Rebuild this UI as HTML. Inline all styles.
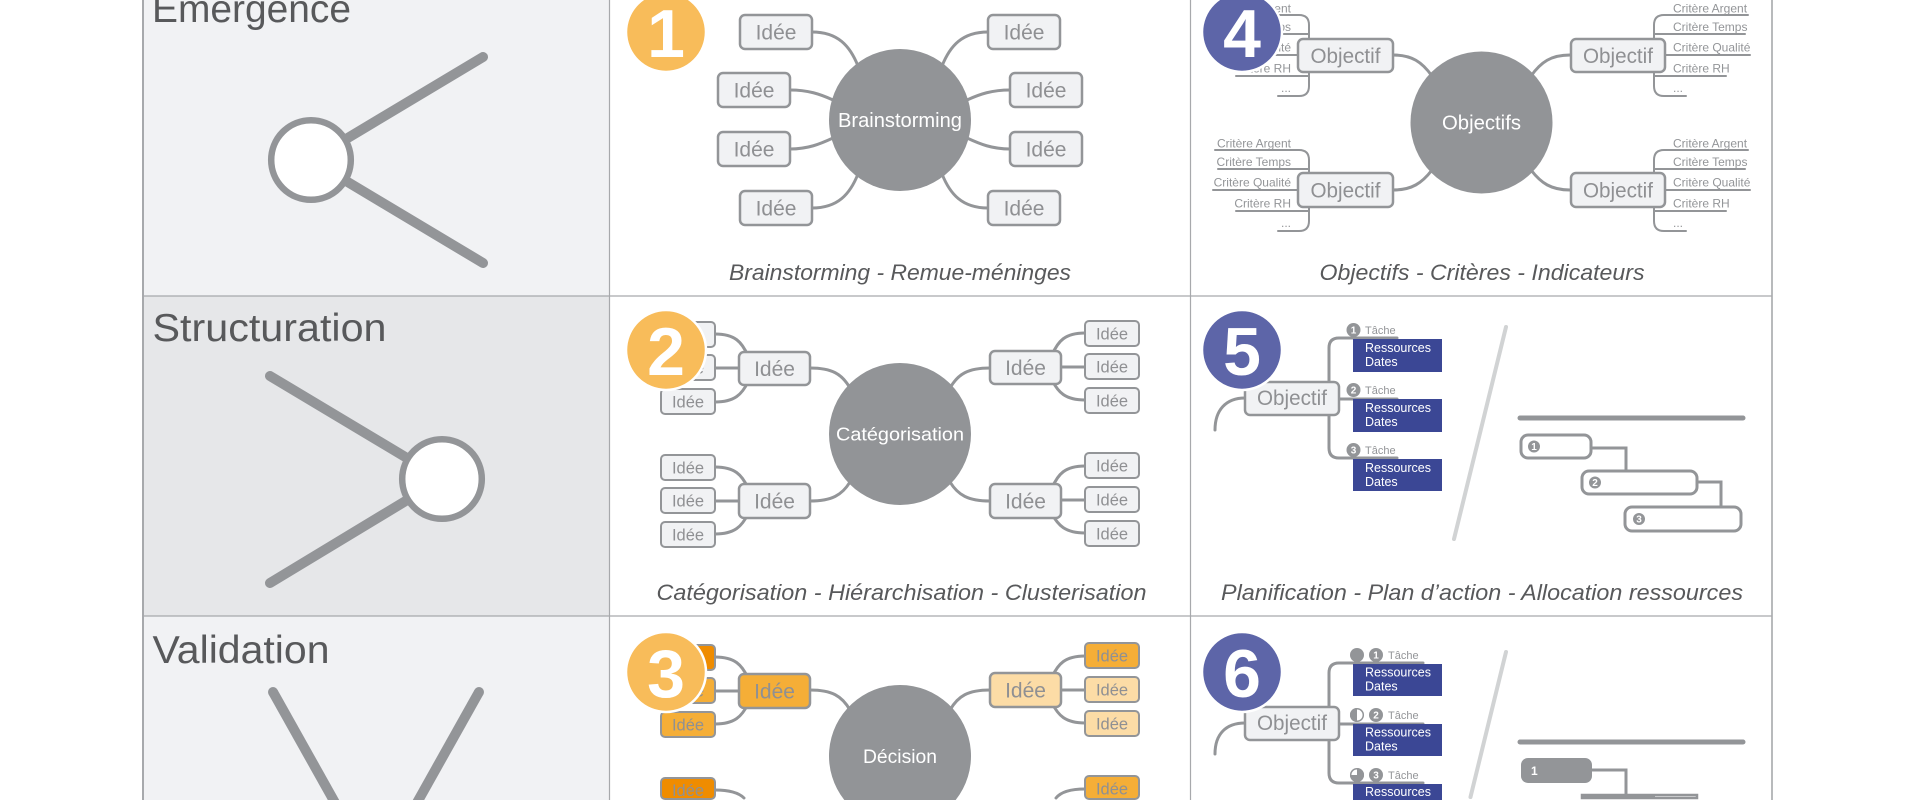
<!DOCTYPE html>
<html>
<head>
<meta charset="utf-8">
<style>
html,body{margin:0;padding:0;background:#ffffff;width:1920px;height:800px;overflow:hidden;}
svg{display:block;}
.c{fill:none;stroke:#939598;stroke-width:3;stroke-linecap:round;}
.cs{fill:none;stroke:#939598;stroke-width:2;stroke-linecap:round;}
.b{fill:#f1f2f4;stroke:#939598;stroke-width:2.5;}
.bs{fill:#f1f2f4;stroke:#939598;stroke-width:2;}
.t{fill:#8f9093;font-size:21px;text-anchor:middle;}
.ts{fill:#8f9093;font-size:16.5px;text-anchor:middle;}
.cr{fill:#939598;font-size:12px;}
.cre{fill:#939598;font-size:12px;text-anchor:end;}
.cap{fill:#58595b;font-size:22px;font-style:italic;text-anchor:middle;}
.ttl{fill:#58595b;font-size:39px;}
.ctr{fill:#ffffff;text-anchor:middle;}
.nv{fill:#3b4795;}
.rs{fill:#ffffff;font-size:12.5px;}
.tq{fill:#939598;font-size:11px;}
.dg{fill:#ffffff;font-size:10px;font-weight:bold;text-anchor:middle;}
.bd{fill:#ffffff;font-size:68px;font-weight:bold;text-anchor:middle;}
</style>
</head>
<body>
<svg width="1920" height="800" viewBox="0 0 1920 800" xmlns="http://www.w3.org/2000/svg" font-family="'Liberation Sans', sans-serif" overflow="hidden">
<rect x="0" y="0" width="1920" height="800" fill="#ffffff"/>
<!-- left column backgrounds -->
<rect x="143" y="0" width="466.5" height="296" fill="#f1f2f4"/>
<rect x="143" y="296" width="466.5" height="320" fill="#e6e7e9"/>
<rect x="143" y="616" width="466.5" height="184" fill="#f1f2f4"/>

<!-- grid lines -->
<line x1="143" y1="0" x2="143" y2="800" stroke="#a7a9ac" stroke-width="2"/>
<line x1="609.5" y1="0" x2="609.5" y2="800" stroke="#a7a9ac" stroke-width="1.2"/>
<line x1="1190.5" y1="0" x2="1190.5" y2="800" stroke="#a7a9ac" stroke-width="1.2"/>
<line x1="1772" y1="0" x2="1772" y2="800" stroke="#a7a9ac" stroke-width="1.6"/>
<line x1="143" y1="296" x2="1772" y2="296" stroke="#a7a9ac" stroke-width="1.3"/>
<line x1="143" y1="616" x2="1772" y2="616" stroke="#a7a9ac" stroke-width="1.3"/>

<!-- ===== LEFT COLUMN ===== -->
<text class="ttl" x="152" y="22" textLength="199" lengthAdjust="spacingAndGlyphs">Emergence</text>
<line x1="311" y1="160" x2="483" y2="57" stroke="#939598" stroke-width="10" stroke-linecap="round"/>
<line x1="311" y1="160" x2="483" y2="263" stroke="#939598" stroke-width="10" stroke-linecap="round"/>
<circle cx="311" cy="160" r="39.8" fill="#ffffff" stroke="#939598" stroke-width="6.5"/>

<text class="ttl" x="152.5" y="341" textLength="234" lengthAdjust="spacingAndGlyphs">Structuration</text>
<line x1="442" y1="479" x2="270" y2="376" stroke="#939598" stroke-width="10" stroke-linecap="round"/>
<line x1="442" y1="479" x2="270" y2="583" stroke="#939598" stroke-width="10" stroke-linecap="round"/>
<circle cx="442" cy="479" r="39.8" fill="#ffffff" stroke="#939598" stroke-width="6.5"/>

<text class="ttl" x="152.5" y="663" textLength="177" lengthAdjust="spacingAndGlyphs">Validation</text>
<polygon points="277.4,689.6 339.2,800 327.8,800 268.6,694.4" fill="#939598"/>
<circle cx="273" cy="692" r="5" fill="#939598"/>
<polygon points="474.6,689.6 412.8,800 424.2,800 483.4,694.4" fill="#939598"/>
<circle cx="479" cy="692" r="5" fill="#939598"/>

<!-- ===== ROW 1 COL 2 : Brainstorming ===== -->
<path class="c" d="M812,32 C838,32 850,46 858,66"/>
<path class="c" d="M790,90 C808,90 820,94 833,100"/>
<path class="c" d="M790,149 C808,149 820,144 833,138"/>
<path class="c" d="M812,208 C838,208 850,194 858,174"/>
<path class="c" d="M988,32 C962,32 950,46 942,66"/>
<path class="c" d="M1010,90 C992,90 980,94 967,100"/>
<path class="c" d="M1010,149 C992,149 980,144 967,138"/>
<path class="c" d="M988,208 C962,208 950,194 942,174"/>
<circle cx="900" cy="120" r="71" fill="#929497"/>
<text class="ctr" x="900" y="127" font-size="20" textLength="124" lengthAdjust="spacingAndGlyphs">Brainstorming</text>
<rect class="b" x="740" y="15" width="72" height="34" rx="5"/><text class="t" x="776" y="39.5">Idée</text>
<rect class="b" x="718" y="73" width="72" height="34" rx="5"/><text class="t" x="754" y="97.5">Idée</text>
<rect class="b" x="718" y="132" width="72" height="34" rx="5"/><text class="t" x="754" y="156.5">Idée</text>
<rect class="b" x="740" y="191" width="72" height="34" rx="5"/><text class="t" x="776" y="215.5">Idée</text>
<rect class="b" x="988" y="15" width="72" height="34" rx="5"/><text class="t" x="1024" y="39.5">Idée</text>
<rect class="b" x="1010" y="73" width="72" height="34" rx="5"/><text class="t" x="1046" y="97.5">Idée</text>
<rect class="b" x="1010" y="132" width="72" height="34" rx="5"/><text class="t" x="1046" y="156.5">Idée</text>
<rect class="b" x="988" y="191" width="72" height="34" rx="5"/><text class="t" x="1024" y="215.5">Idée</text>
<text class="cap" x="900" y="280" textLength="342" lengthAdjust="spacingAndGlyphs">Brainstorming - Remue-méninges</text>
<circle cx="666" cy="32" r="40" fill="#f8bc5a" stroke="#ffffff" stroke-width="2.5"/>
<text class="bd" x="666" y="57">1</text>

<!-- ===== ROW 1 COL 3 : Objectifs ===== -->
<path class="c" d="M1393,55 C1412,55 1422,62 1432,76"/>
<path class="c" d="M1393,190 C1412,190 1422,183 1432,170"/>
<path class="c" d="M1570,55 C1551,55 1541,62 1531,76"/>
<path class="c" d="M1570,190 C1551,190 1541,183 1531,170"/>
<!-- TR criteria -->
<path class="cs" d="M1748,15 L1664,15 Q1654,15 1654,25 L1654,86 Q1654,96 1664,96 L1686,96"/>
<path class="cs" d="M1654,34 L1745,34"/>
<path class="cs" d="M1664,55 L1750,55"/>
<path class="cs" d="M1654,76 L1726,76"/>
<text class="cr" x="1673" y="12.5">Critère Argent</text>
<text class="cr" x="1673" y="31">Critère Temps</text>
<text class="cr" x="1673" y="51.5">Critère Qualité</text>
<text class="cr" x="1673" y="72.5">Critère RH</text>
<text class="cr" x="1673" y="92">...</text>
<!-- BR criteria -->
<path class="cs" d="M1748,150 L1664,150 Q1654,150 1654,160 L1654,221 Q1654,231 1664,231 L1686,231"/>
<path class="cs" d="M1654,169 L1745,169"/>
<path class="cs" d="M1664,190 L1750,190"/>
<path class="cs" d="M1654,211 L1726,211"/>
<text class="cr" x="1673" y="147.5">Critère Argent</text>
<text class="cr" x="1673" y="166">Critère Temps</text>
<text class="cr" x="1673" y="186.5">Critère Qualité</text>
<text class="cr" x="1673" y="207.5">Critère RH</text>
<text class="cr" x="1673" y="227">...</text>
<!-- TL criteria -->
<path class="cs" d="M1215,15 L1299,15 Q1309,15 1309,25 L1309,86 Q1309,96 1299,96 L1278,96"/>
<path class="cs" d="M1309,34 L1218,34"/>
<path class="cs" d="M1299,55 L1213,55"/>
<path class="cs" d="M1309,76 L1236,76"/>
<text class="cre" x="1291" y="12.5">Critère Argent</text>
<text class="cre" x="1291" y="31">Critère Temps</text>
<text class="cre" x="1291" y="51.5">Critère Qualité</text>
<text class="cre" x="1291" y="72.5">Critère RH</text>
<text class="cre" x="1291" y="92">...</text>
<!-- BL criteria -->
<path class="cs" d="M1215,150 L1299,150 Q1309,150 1309,160 L1309,221 Q1309,231 1299,231 L1278,231"/>
<path class="cs" d="M1309,169 L1218,169"/>
<path class="cs" d="M1299,190 L1213,190"/>
<path class="cs" d="M1309,211 L1236,211"/>
<text class="cre" x="1291" y="147.5">Critère Argent</text>
<text class="cre" x="1291" y="166">Critère Temps</text>
<text class="cre" x="1291" y="186.5">Critère Qualité</text>
<text class="cre" x="1291" y="207.5">Critère RH</text>
<text class="cre" x="1291" y="227">...</text>
<circle cx="1481.5" cy="122.5" r="71" fill="#929497"/>
<text class="ctr" x="1481.5" y="129.5" font-size="20" textLength="79" lengthAdjust="spacingAndGlyphs">Objectifs</text>
<rect class="b" x="1298" y="39" width="95" height="33" rx="5"/><text class="t" x="1345.5" y="63" textLength="70" lengthAdjust="spacingAndGlyphs">Objectif</text>
<rect class="b" x="1298" y="173" width="95" height="34" rx="5"/><text class="t" x="1345.5" y="197.5" textLength="70" lengthAdjust="spacingAndGlyphs">Objectif</text>
<rect class="b" x="1571" y="39" width="94" height="33" rx="5"/><text class="t" x="1618" y="63" textLength="70" lengthAdjust="spacingAndGlyphs">Objectif</text>
<rect class="b" x="1571" y="173" width="94" height="34" rx="5"/><text class="t" x="1618" y="197.5" textLength="70" lengthAdjust="spacingAndGlyphs">Objectif</text>
<text class="cap" x="1482" y="280" textLength="325" lengthAdjust="spacingAndGlyphs">Objectifs - Critères - Indicateurs</text>
<circle cx="1242" cy="32" r="40" fill="#5d65a8" stroke="#ffffff" stroke-width="2.5"/>
<text class="bd" x="1242" y="57">4</text>

<!-- ===== ROW 2 COL 2 : Catégorisation ===== -->
<path class="c" d="M810,368 C832,368 842,374 850,388"/>
<path class="c" d="M810,501 C832,501 842,495 850,482"/>
<path class="c" d="M990,368 C968,368 958,374 950,388"/>
<path class="c" d="M990,501 C968,501 958,495 950,482"/>
<path class="c" d="M715,334 C735,334 742,342 748,356"/>
<path class="c" d="M715,368 L739,368"/>
<path class="c" d="M715,402 C735,402 742,394 748,382"/>
<path class="c" d="M715,467 C735,467 742,475 748,488"/>
<path class="c" d="M715,501 L739,501"/>
<path class="c" d="M715,534 C735,534 742,526 748,514"/>
<path class="c" d="M1085,333 C1065,333 1058,341 1052,355"/>
<path class="c" d="M1085,367 L1061,367"/>
<path class="c" d="M1085,400 C1065,400 1058,392 1052,380"/>
<path class="c" d="M1085,466 C1065,466 1058,474 1052,488"/>
<path class="c" d="M1085,500 L1061,500"/>
<path class="c" d="M1085,533 C1065,533 1058,525 1052,514"/>
<circle cx="900" cy="434" r="71" fill="#929497"/>
<text class="ctr" x="900" y="440.5" font-size="18.5" textLength="128" lengthAdjust="spacingAndGlyphs">Catégorisation</text>
<rect class="b" x="739" y="352" width="71" height="33" rx="5"/><text class="t" x="774.5" y="376">Idée</text>
<rect class="b" x="739" y="484" width="71" height="34" rx="5"/><text class="t" x="774.5" y="508.5">Idée</text>
<rect class="b" x="990" y="351" width="71" height="33" rx="5"/><text class="t" x="1025.5" y="375">Idée</text>
<rect class="b" x="990" y="484" width="71" height="34" rx="5"/><text class="t" x="1025.5" y="508.5">Idée</text>
<rect class="bs" x="661" y="322" width="54" height="25" rx="4"/><text class="ts" x="688" y="340.5">Idée</text>
<rect class="bs" x="661" y="355" width="54" height="25" rx="4"/><text class="ts" x="688" y="373.5">Idée</text>
<rect class="bs" x="661" y="389" width="54" height="25" rx="4"/><text class="ts" x="688" y="407.5">Idée</text>
<rect class="bs" x="661" y="455" width="54" height="25" rx="4"/><text class="ts" x="688" y="473.5">Idée</text>
<rect class="bs" x="661" y="488" width="54" height="25" rx="4"/><text class="ts" x="688" y="506.5">Idée</text>
<rect class="bs" x="661" y="522" width="54" height="25" rx="4"/><text class="ts" x="688" y="540.5">Idée</text>
<rect class="bs" x="1085" y="321" width="54" height="25" rx="4"/><text class="ts" x="1112" y="339.5">Idée</text>
<rect class="bs" x="1085" y="354" width="54" height="25" rx="4"/><text class="ts" x="1112" y="372.5">Idée</text>
<rect class="bs" x="1085" y="388" width="54" height="25" rx="4"/><text class="ts" x="1112" y="406.5">Idée</text>
<rect class="bs" x="1085" y="453" width="54" height="25" rx="4"/><text class="ts" x="1112" y="471.5">Idée</text>
<rect class="bs" x="1085" y="487" width="54" height="25" rx="4"/><text class="ts" x="1112" y="505.5">Idée</text>
<rect class="bs" x="1085" y="521" width="54" height="25" rx="4"/><text class="ts" x="1112" y="539.5">Idée</text>
<text class="cap" x="901.5" y="600" textLength="490" lengthAdjust="spacingAndGlyphs">Catégorisation - Hiérarchisation - Clusterisation</text>
<circle cx="666" cy="350" r="40" fill="#f8bc5a" stroke="#ffffff" stroke-width="2.5"/>
<text class="bd" x="666" y="375">2</text>

<!-- ===== ROW 2 COL 3 : Planification ===== -->
<path class="c" d="M1215,430 C1215,410 1226,398 1245,398"/>
<path class="c" d="M1397,338 L1339,338 Q1329,338 1329,348 L1329,448 Q1329,458 1339,458 L1397,458"/>
<path class="c" d="M1339,399 L1397,399"/>
<rect class="b" x="1245" y="382" width="94" height="33" rx="5"/><text class="t" x="1292" y="405" textLength="70" lengthAdjust="spacingAndGlyphs">Objectif</text>
<rect class="nv" x="1353" y="339" width="89" height="33"/>
<text class="rs" x="1365" y="352">Ressources</text><text class="rs" x="1365" y="366">Dates</text>
<rect class="nv" x="1353" y="399" width="89" height="33"/>
<text class="rs" x="1365" y="412">Ressources</text><text class="rs" x="1365" y="426">Dates</text>
<rect class="nv" x="1353" y="459" width="89" height="32"/>
<text class="rs" x="1365" y="472">Ressources</text><text class="rs" x="1365" y="486">Dates</text>
<circle cx="1353.5" cy="330" r="7" fill="#939598"/><text class="dg" x="1353.5" y="333.5">1</text><text class="tq" x="1365" y="334">Tâche</text>
<circle cx="1353.5" cy="390" r="7" fill="#939598"/><text class="dg" x="1353.5" y="393.5">2</text><text class="tq" x="1365" y="394">Tâche</text>
<circle cx="1353.5" cy="450" r="7" fill="#939598"/><text class="dg" x="1353.5" y="453.5">3</text><text class="tq" x="1365" y="454">Tâche</text>
<line x1="1506" y1="327" x2="1454" y2="539" stroke="#d1d3d4" stroke-width="4" stroke-linecap="round"/>
<line x1="1520" y1="418" x2="1743" y2="418" stroke="#939598" stroke-width="5" stroke-linecap="round"/>
<path class="c" d="M1591,448 L1626,448 L1626,471"/>
<path class="c" d="M1697,482 L1721,482 L1721,507"/>
<rect x="1521" y="435" width="70" height="23" rx="7" fill="#ffffff" stroke="#939598" stroke-width="3"/>
<circle cx="1534" cy="446.5" r="6" fill="#939598"/><text class="dg" x="1534" y="450" font-size="9">1</text>
<rect x="1582" y="471" width="115" height="23" rx="7" fill="#ffffff" stroke="#939598" stroke-width="3"/>
<circle cx="1595" cy="482.5" r="6" fill="#939598"/><text class="dg" x="1595" y="486" font-size="9">2</text>
<rect x="1625" y="507" width="116" height="24" rx="7" fill="#ffffff" stroke="#939598" stroke-width="3"/>
<circle cx="1639" cy="519" r="6" fill="#939598"/><text class="dg" x="1639" y="522.5" font-size="9">3</text>
<text class="cap" x="1482" y="600" textLength="522" lengthAdjust="spacingAndGlyphs">Planification - Plan d’action - Allocation ressources</text>
<circle cx="1242" cy="350" r="40" fill="#5d65a8" stroke="#ffffff" stroke-width="2.5"/>
<text class="bd" x="1242" y="375">5</text>

<!-- ===== ROW 3 COL 2 : Décision ===== -->
<path class="c" d="M810,690 C832,690 842,696 850,710"/>
<path class="c" d="M990,690 C968,690 958,696 950,710"/>
<path class="c" d="M715,657 C735,657 742,665 748,678"/>
<path class="c" d="M715,691 L739,691"/>
<path class="c" d="M715,724 C735,724 742,716 748,704"/>
<path class="c" d="M715,790 C732,790 740,794 744,798"/>
<path class="c" d="M1085,656 C1065,656 1058,664 1052,677"/>
<path class="c" d="M1085,690 L1061,690"/>
<path class="c" d="M1085,723 C1065,723 1058,715 1052,703"/>
<path class="c" d="M1085,789 C1068,789 1060,793 1056,798"/>
<path d="M844.3,800 A71,71 0 1 1 955.7,800 Z" fill="#929497"/>
<text class="ctr" x="900" y="763" font-size="19.5" textLength="74" lengthAdjust="spacingAndGlyphs">Décision</text>
<rect x="739" y="674" width="71" height="34" rx="5" fill="#f5ae37" stroke="#939598" stroke-width="2.5"/><text class="t" x="774.5" y="698.5">Idée</text>
<rect x="990" y="673" width="71" height="34" rx="5" fill="#fcdca6" stroke="#939598" stroke-width="2.5"/><text class="t" x="1025.5" y="697.5">Idée</text>
<rect x="661" y="645" width="54" height="25" rx="4" fill="#ef8c00" stroke="#939598" stroke-width="2"/><text class="ts" x="688" y="663.5">Idée</text>
<rect x="661" y="678" width="54" height="25" rx="4" fill="#f5ae37" stroke="#939598" stroke-width="2"/><text class="ts" x="688" y="696.5">Idée</text>
<rect x="661" y="712" width="54" height="25" rx="4" fill="#f5ae37" stroke="#939598" stroke-width="2"/><text class="ts" x="688" y="730.5">Idée</text>
<rect x="661" y="778" width="54" height="21" rx="4" fill="#ef8c00" stroke="#939598" stroke-width="2"/><text class="ts" x="688" y="796">Idée</text>
<rect x="1085" y="643" width="54" height="25" rx="4" fill="#f5ae37" stroke="#939598" stroke-width="2"/><text class="ts" x="1112" y="661.5">Idée</text>
<rect x="1085" y="677" width="54" height="25" rx="4" fill="#fcdca6" stroke="#939598" stroke-width="2"/><text class="ts" x="1112" y="695.5">Idée</text>
<rect x="1085" y="711" width="54" height="25" rx="4" fill="#fcdca6" stroke="#939598" stroke-width="2"/><text class="ts" x="1112" y="729.5">Idée</text>
<rect x="1085" y="776" width="54" height="23" rx="4" fill="#f5ae37" stroke="#939598" stroke-width="2"/><text class="ts" x="1112" y="794.5">Idée</text>
<circle cx="666" cy="672" r="40" fill="#f8bc5a" stroke="#ffffff" stroke-width="2.5"/>
<text class="bd" x="666" y="697">3</text>

<!-- ===== ROW 3 COL 3 ===== -->
<path class="c" d="M1215,754 C1215,734 1226,723 1245,723"/>
<path class="c" d="M1423,663 L1339,663 Q1329,663 1329,673 L1329,773 Q1329,783 1339,783 L1423,783"/>
<path class="c" d="M1339,724 L1423,724"/>
<rect class="b" x="1245" y="707" width="94" height="33" rx="5"/><text class="t" x="1292" y="730" textLength="70" lengthAdjust="spacingAndGlyphs">Objectif</text>
<rect class="nv" x="1353" y="664" width="89" height="32"/>
<text class="rs" x="1365" y="676.5">Ressources</text><text class="rs" x="1365" y="690.5">Dates</text>
<rect class="nv" x="1353" y="724" width="89" height="32"/>
<text class="rs" x="1365" y="736.5">Ressources</text><text class="rs" x="1365" y="750.5">Dates</text>
<rect class="nv" x="1353" y="784" width="89" height="16"/>
<text class="rs" x="1365" y="796">Ressources</text>
<!-- status icons -->
<circle cx="1357" cy="655" r="7" fill="#939598"/>
<circle cx="1376" cy="655" r="7" fill="#939598"/><text class="dg" x="1376" y="658.5">1</text><text class="tq" x="1388" y="659">Tâche</text>
<circle cx="1357" cy="715" r="6.3" fill="#ffffff" stroke="#939598" stroke-width="1.5"/>
<path d="M1357,708 A7,7 0 0 0 1357,722 Z" fill="#939598"/>
<circle cx="1376" cy="715" r="7" fill="#939598"/><text class="dg" x="1376" y="718.5">2</text><text class="tq" x="1388" y="719">Tâche</text>
<circle cx="1357" cy="775" r="6.3" fill="#ffffff" stroke="#939598" stroke-width="1.5"/>
<path d="M1357,775 L1357,768 A7,7 0 1 1 1350,775 Z" fill="#939598"/>
<circle cx="1376" cy="775" r="7" fill="#939598"/><text class="dg" x="1376" y="778.5">3</text><text class="tq" x="1388" y="779">Tâche</text>
<line x1="1506" y1="652" x2="1470.5" y2="797" stroke="#d1d3d4" stroke-width="4" stroke-linecap="round"/>
<line x1="1520" y1="742" x2="1743" y2="742" stroke="#939598" stroke-width="5" stroke-linecap="round"/>
<path class="c" d="M1592,770 L1626,770 L1626,797"/>
<rect x="1521" y="758" width="71" height="25" rx="7" fill="#939598"/>
<text x="1531" y="775" fill="#ffffff" font-size="12" font-weight="bold">1</text>
<rect x="1582" y="795" width="115" height="3" fill="#ffffff" stroke="#939598" stroke-width="2.5"/>
<rect x="1582" y="794" width="73" height="5" fill="#939598"/>
<circle cx="1242" cy="672" r="40" fill="#5d65a8" stroke="#ffffff" stroke-width="2.5"/>
<text class="bd" x="1242" y="697">6</text>
</svg>
</body>
</html>
